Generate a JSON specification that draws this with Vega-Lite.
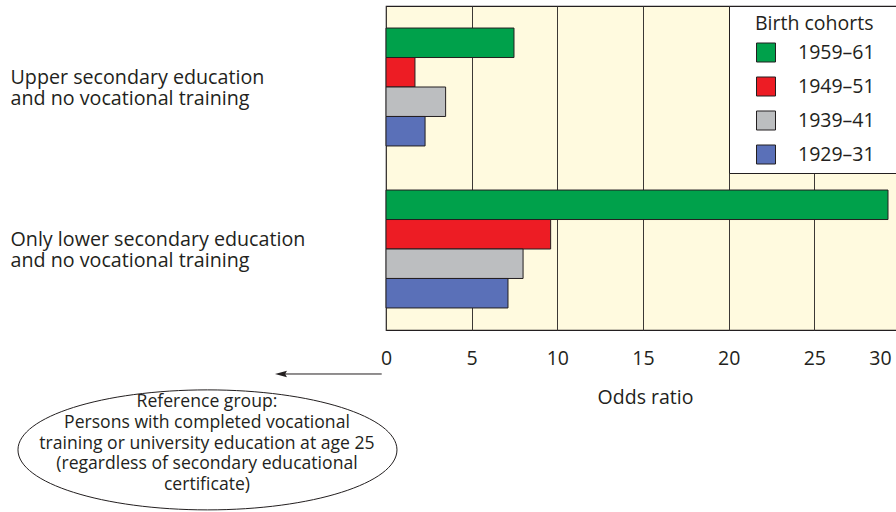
{
  "$schema": "https://vega.github.io/schema/vega-lite/v6.json",
  "width": 514,
  "height": 324,
  "autosize": {"type": "none"},
  "padding": {"left": 386, "top": 6, "right": -4, "bottom": 182},
  "background": "white",
  "config": {
    "font": "Open Sans",
    "view": {"fill": "#fffadf", "stroke": "#231f20", "strokeWidth": 1.2}
  },
  "layer": [
    {
      "data": {
        "values": [
          {"education": "Upper secondary education and no vocational training", "cohort": "1959–61", "odds_ratio": 7.47},
          {"education": "Upper secondary education and no vocational training", "cohort": "1949–51", "odds_ratio": 1.69},
          {"education": "Upper secondary education and no vocational training", "cohort": "1939–41", "odds_ratio": 3.48},
          {"education": "Upper secondary education and no vocational training", "cohort": "1929–31", "odds_ratio": 2.28},
          {"education": "Only lower secondary education and no vocational training", "cohort": "1959–61", "odds_ratio": 29.3},
          {"education": "Only lower secondary education and no vocational training", "cohort": "1949–51", "odds_ratio": 9.61},
          {"education": "Only lower secondary education and no vocational training", "cohort": "1939–41", "odds_ratio": 8.0},
          {"education": "Only lower secondary education and no vocational training", "cohort": "1929–31", "odds_ratio": 7.12}
        ]
      },
      "mark": {"type": "bar", "stroke": "#231f20", "strokeWidth": 1},
      "encoding": {
        "x": {
          "field": "odds_ratio",
          "type": "quantitative",
          "scale": {"domain": [0, 30], "nice": false},
          "axis": {
            "values": [0, 5, 10, 15, 20, 25, 30],
            "grid": true,
            "gridColor": "#3c3835",
            "gridWidth": 1,
            "ticks": false,
            "tickSize": 0,
            "domain": false,
            "labelFlush": false,
            "labelOverlap": false,
            "labelPadding": 19,
            "labelFontSize": 19.5,
            "labelColor": "#231f20",
            "labelOffset": {"condition": {"test": "datum.value === 30", "value": -20}, "value": 0},
            "title": "Odds ratio",
            "titleFontSize": 19.5,
            "titleFontWeight": "normal",
            "titleColor": "#231f20",
            "titlePadding": 21,
            "titleX": 259
          }
        },
        "y": {
          "field": "education",
          "type": "nominal",
          "sort": ["Upper secondary education and no vocational training", "Only lower secondary education and no vocational training"],
          "scale": {"paddingInner": 0.272, "paddingOuter": 0.136},
          "axis": {
            "title": null,
            "ticks": false,
            "tickSize": 0,
            "domain": false,
            "grid": false,
            "labelAlign": "left",
            "labelBaseline": "middle",
            "labelPadding": 376,
            "labelLimit": 0,
            "labelOffset": -9,
            "labelFontSize": 19.7,
            "labelLineHeight": 21,
            "labelColor": "#231f20",
            "labelExpr": "split(replace(datum.label, ' and no', '|and no'), '|')"
          }
        },
        "yOffset": {
          "field": "cohort",
          "type": "nominal",
          "sort": ["1959–61", "1949–51", "1939–41", "1929–31"],
          "scale": {"paddingInner": 0, "paddingOuter": 0}
        },
        "color": {
          "field": "cohort",
          "type": "nominal",
          "scale": {
            "domain": ["1959–61", "1949–51", "1939–41", "1929–31"],
            "range": ["#00a14b", "#ed1c24", "#bcbec0", "#5a70b8"]
          },
          "legend": {
            "title": "Birth cohorts",
            "orient": "none",
            "legendX": 343,
            "legendY": 0,
            "padding": 7,
            "fillColor": "white",
            "strokeColor": "#231f20",
            "titleFontSize": 19.5,
            "titleFontWeight": "normal",
            "titleColor": "#231f20",
            "titlePadding": 10,
            "labelFontSize": 19.5,
            "labelColor": "#231f20",
            "labelOffset": 22,
            "labelExpr": "datum.label + '\u2003\u200b'",
            "symbolType": "square",
            "symbolSize": 361,
            "symbolStrokeColor": "#231f20",
            "symbolStrokeWidth": 1,
            "symbolOpacity": 1,
            "symbolOffset": 20,
            "rowPadding": 10,
            "encode": {"title": {"update": {"dx": {"value": 19}, "dy": {"value": 2}}}}
          }
        }
      }
    },
    {
      "data": {"values": [{"x": -10.42, "y": -0.37}]},
      "mark": {
        "type": "point",
        "shape": "M -1 0 C -1 -0.1749 -0.5523 -0.3166 0 -0.3166 C 0.5523 -0.3166 1 -0.1749 1 0 C 1 0.1749 0.5523 0.3166 0 0.3166 C -0.5523 0.3166 -1 0.1749 -1 0 Z",
        "size": 143641,
        "filled": false,
        "stroke": "#231f20",
        "strokeWidth": 1,
        "opacity": 1,
        "clip": false
      },
      "encoding": {
        "x": {"field": "x", "type": "quantitative", "scale": {"domain": [0, 30], "nice": false}},
        "y": {"field": "y", "type": "quantitative", "scale": {"domain": [0, 1], "nice": false}, "axis": null}
      }
    },
    {
      "data": {"values": [{"x": -10.45, "y": -0.222, "note": "Reference group:\nPersons with completed vocational\ntraining or university education at age 25\n(regardless of secondary educational\ncertificate)"}]},
      "mark": {"type": "text", "align": "center", "baseline": "middle", "lineBreak": "\n", "fontSize": 17.6, "lineHeight": 20.8, "color": "#231f20", "clip": false},
      "encoding": {
        "x": {"field": "x", "type": "quantitative", "scale": {"domain": [0, 30], "nice": false}},
        "y": {"field": "y", "type": "quantitative", "scale": {"domain": [0, 1], "nice": false}, "axis": null},
        "text": {"field": "note"}
      }
    },
    {
      "data": {"values": [{"x": -0.25, "x2": -6.2, "y": -0.1358}]},
      "mark": {"type": "rule", "stroke": "#231f20", "strokeWidth": 1, "clip": false},
      "encoding": {
        "x": {"field": "x", "type": "quantitative", "scale": {"domain": [0, 30], "nice": false}},
        "x2": {"field": "x2"},
        "y": {"field": "y", "type": "quantitative", "scale": {"domain": [0, 1], "nice": false}, "axis": null}
      }
    },
    {
      "data": {"values": [{"x": -6.13, "y": -0.1358}]},
      "mark": {"type": "point", "shape": "M -1 0 L 1 -0.55 L 0.7 0 L 1 0.55 Z", "size": 144, "filled": true, "color": "#231f20", "opacity": 1, "clip": false},
      "encoding": {
        "x": {"field": "x", "type": "quantitative", "scale": {"domain": [0, 30], "nice": false}},
        "y": {"field": "y", "type": "quantitative", "scale": {"domain": [0, 1], "nice": false}, "axis": null}
      }
    }
  ],
  "resolve": {"scale": {"y": "independent"}}
}
